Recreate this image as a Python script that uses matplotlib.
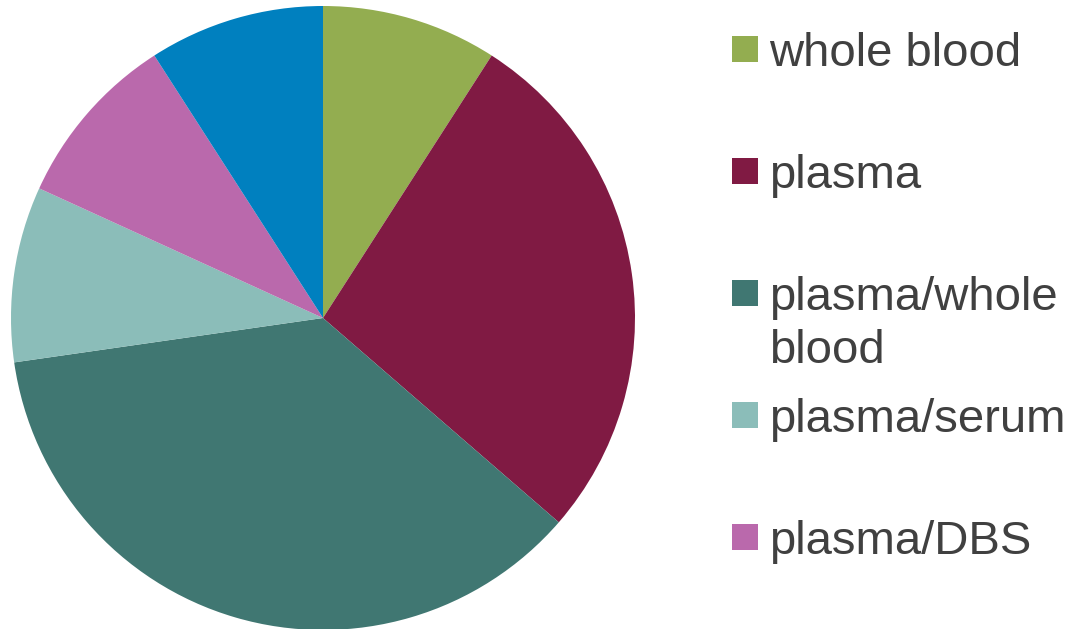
import matplotlib.pyplot as plt
from matplotlib.patches import Rectangle

# sample matrix counts per category
labels = ['whole blood', 'plasma', 'plasma/whole\nblood', 'plasma/serum', 'plasma/DBS', 'DBS']
counts = [1, 3, 4, 1, 1, 1]
colors = ['#93AD50', '#801A43', '#407772', '#8BBDB9', '#BA69AC', '#0080BF']

W, H = 1076, 629
fig = plt.figure(figsize=(W / 100, H / 100), dpi=100)

# pie: centre (323, 318) px from top-left, radius 312 px
cx, cy, r = 323, 318, 312
ax = fig.add_axes([(cx - r) / W, (H - cy - r) / H, 2 * r / W, 2 * r / H])
ax.pie(counts, colors=colors, startangle=90, counterclock=False,
       radius=1, wedgeprops=dict(linewidth=0))
ax.set_xlim(-1, 1)
ax.set_ylim(-1, 1)
ax.set_aspect('equal')
ax.axis('off')

# legend drawn by hand, one entry every 122 px (only five fit on the canvas)
sq = 26
for i, (lab, col) in enumerate(zip(labels[:5], colors[:5])):
    yc = 49 + 122 * i
    fig.patches.append(Rectangle((732 / W, (H - yc - sq / 2) / H), sq / W, sq / H,
                                 transform=fig.transFigure, facecolor=col,
                                 edgecolor='none'))
    for k, line in enumerate(lab.split('\n')):
        base = yc + 17 + 53 * k
        fig.text(769 / W, (H - base) / H, line, fontsize=34, family='Liberation Sans',
                 color='#404040', va='baseline', ha='left')

fig.savefig('out.png', dpi=100)
